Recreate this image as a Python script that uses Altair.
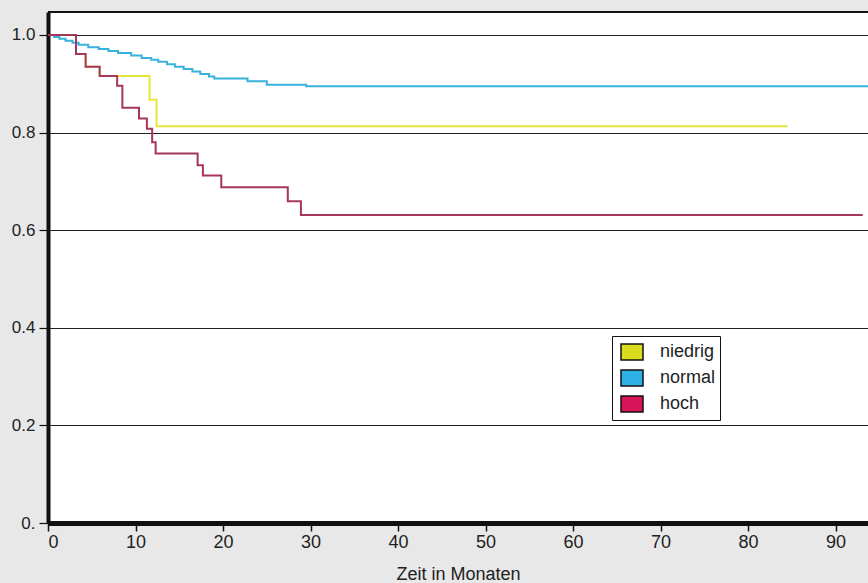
import altair as alt
import pandas as pd

# ---- data ----
gruppen = ["niedrig", "normal", "hoch"]

monate_niedrig = [0, 3.2, 4.3, 5.9, 11.6, 12.4, 84.5]
wert_niedrig = [1.0, 0.961, 0.935, 0.916, 0.867, 0.813, 0.813]

monate_normal = [0, 0.7, 1.3, 2.0, 2.8, 3.5, 4.6, 5.8, 6.9, 8.0, 9.5, 10.7, 11.8,
                 12.6, 13.6, 14.5, 15.5, 16.5, 17.4, 18.4, 19.0, 22.8, 25.0, 29.5, 96.0]
wert_normal = [1.0, 0.996, 0.992, 0.988, 0.984, 0.980, 0.975, 0.971, 0.967, 0.963, 0.958,
               0.953, 0.949, 0.945, 0.940, 0.935, 0.930, 0.925, 0.920, 0.915, 0.911,
               0.905, 0.898, 0.895, 0.895]

monate_hoch = [0, 3.2, 4.3, 5.9, 7.9, 8.5, 10.4, 11.3, 11.9, 12.3, 17.1, 17.7, 19.8,
               27.4, 28.9, 93.1]
wert_hoch = [1.0, 0.961, 0.935, 0.916, 0.896, 0.851, 0.829, 0.808, 0.780, 0.757, 0.733,
             0.712, 0.688, 0.659, 0.631, 0.631]

x_ticks = [0, 10, 20, 30, 40, 50, 60, 70, 80, 90]
y_ticks = [0.0, 0.2, 0.4, 0.6, 0.8, 1.0]

line_colors = ["#e4e83a", "#38b2dc", "#a5375a"]
legend_colors = ["#dcdc1e", "#2cb0e6", "#d81458"]

FONT = "Liberation Sans, Arial, Helvetica, sans-serif"

# ---- tables ----
def frame(g, m, w):
    return pd.DataFrame({"gruppe": g, "monat": m, "wert": w})

df_n = frame("niedrig", monate_niedrig, wert_niedrig)
df_no = frame("normal", monate_normal, wert_normal)
df_h = frame("hoch", monate_hoch, wert_hoch)
df_leg = pd.DataFrame({"gruppe": gruppen})

xscale = alt.Scale(domain=[0, 93.7], nice=False, zero=False)
yscale = alt.Scale(domain=[0, 1.047], nice=False, zero=False)

x_enc = alt.X("monat:Q", scale=xscale,
              axis=alt.Axis(values=x_ticks, title="Zeit in Monaten", grid=False,
                            domainWidth=5, domainColor="#111", tickSize=8, tickWidth=1.5,
                            tickColor="#111", labelFontSize=18, labelPadding=2,
                            labelFont=FONT, labelColor="#222",
                            titleFont=FONT, titleFontSize=18,
                            titleFontWeight="normal", titleColor="#222", titlePadding=14))
y_enc = alt.Y("wert:Q", scale=yscale,
              axis=alt.Axis(values=y_ticks, title=None, grid=True, gridColor="#222",
                            gridWidth=1, domainWidth=4, domainColor="#111", tickSize=9,
                            tickWidth=1.2, tickColor="#111", labelFontSize=17,
                            labelFont=FONT, labelColor="#222", labelPadding=4,
                            labelExpr="datum.value == 0 ? '0.' : format(datum.value, '.1f')"))

def line(df, color):
    return alt.Chart(df).mark_line(interpolate="step-after", strokeWidth=2, clip=True).encode(
        x=x_enc, y=y_enc, stroke=alt.value(color),
    )

top_rule = alt.Chart(df_leg).mark_rule(color="#111", strokeWidth=1.5).encode(
    x=alt.value(0), x2=alt.value(820), y=alt.value(0)
)

legend_layer = alt.Chart(df_leg).mark_square(size=100, stroke="#111", strokeWidth=1.5,
                                             clip=True).encode(
    x=alt.value(-300), y=alt.value(-300),
    fill=alt.Fill("gruppe:N", scale=alt.Scale(domain=gruppen, range=legend_colors),
                  sort=gruppen,
                  legend=alt.Legend(title=None, orient="none", legendX=564, legendY=324,
                                    fillColor="white", strokeColor="#111", padding=4,
                                    symbolOffset=4,
                                    symbolType="M-1,-0.73H1V0.73H-1Z", symbolSize=484,
                                    symbolStrokeColor="#111", symbolStrokeWidth=1.5,
                                    symbolOpacity=1, labelFont=FONT,
                                    labelExpr="datum.label + '\u00a0\u00a0\u00a0'",
                                    labelFontSize=18, labelColor="#222", labelOffset=16,
                                    rowPadding=2)),
)

chart = alt.layer(line(df_n, line_colors[0]), line(df_no, line_colors[1]),
                  line(df_h, line_colors[2]), legend_layer, top_rule).properties(
    width=820, height=511,
    autosize=alt.AutoSizeParams(type="none"),
    padding={"left": 48, "top": 12, "right": 0, "bottom": 60},
    background="#e8e8e8",
).configure_view(fill="white", stroke=None)

chart.save("out.html", embed_options={"renderer": "svg", "actions": False})
